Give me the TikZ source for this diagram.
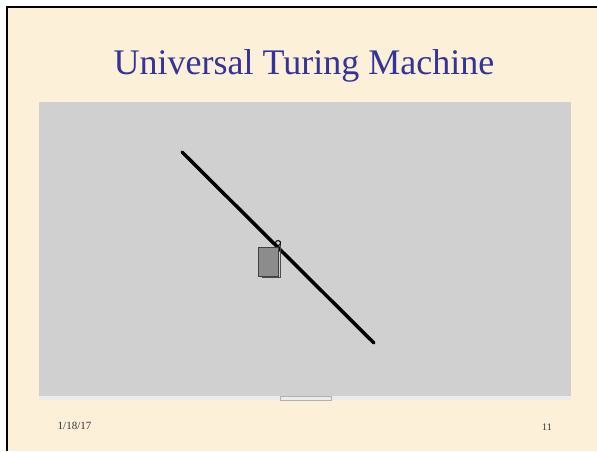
\documentclass[tikz,border=0pt]{standalone}
\usepackage{fontspec}
\setmainfont{Liberation Serif}
\definecolor{cream}{HTML}{FCF0D8}
\definecolor{panel}{HTML}{D0D0D0}
\definecolor{titleblue}{HTML}{333399}
\begin{document}
\begin{tikzpicture}[x=1pt,y=-1pt,
  tape/.style={line width=3.5pt,line cap=round},
  small/.style={font=\fontsize{11}{13}\selectfont,text=black!80}]
\useasboundingbox (0,0) rectangle (597,451);
\fill[white] (0,0) rectangle (597,451);
\fill[cream] (7,7) rectangle (597,451);
\draw[line width=2.2pt] (7,451) -- (7,7) -- (597,7);
\fill[panel] (39,102) rectangle (571,396);
\fill[black!8] (39,396) rectangle (571,400);
\draw[black!30,line width=0.4pt] (280,396) rectangle (331,400);
\node[text=titleblue,font=\fontsize{36}{42}\selectfont] (title) at (304,66) {Universal Turing Machine};
\coordinate (a) at (182,152);
\coordinate (b) at (374,343);
\draw[tape] (a) -- (b);
\fill[black!45] (258,247) rectangle (278,276);
\draw[black!75,line width=0.6pt] (258,247) rectangle (278,276);
\draw[black!70,line width=0.8pt] (280,241) -- (280,277) -- (262,277);
\draw[black,line width=1pt] (278,243) circle (2.5);
\node[small] (date) at (74.5,426) {1/18/17};
\node[small,font=\fontsize{10}{12}\selectfont] (num) at (547,427) {11};
\end{tikzpicture}
\end{document}
